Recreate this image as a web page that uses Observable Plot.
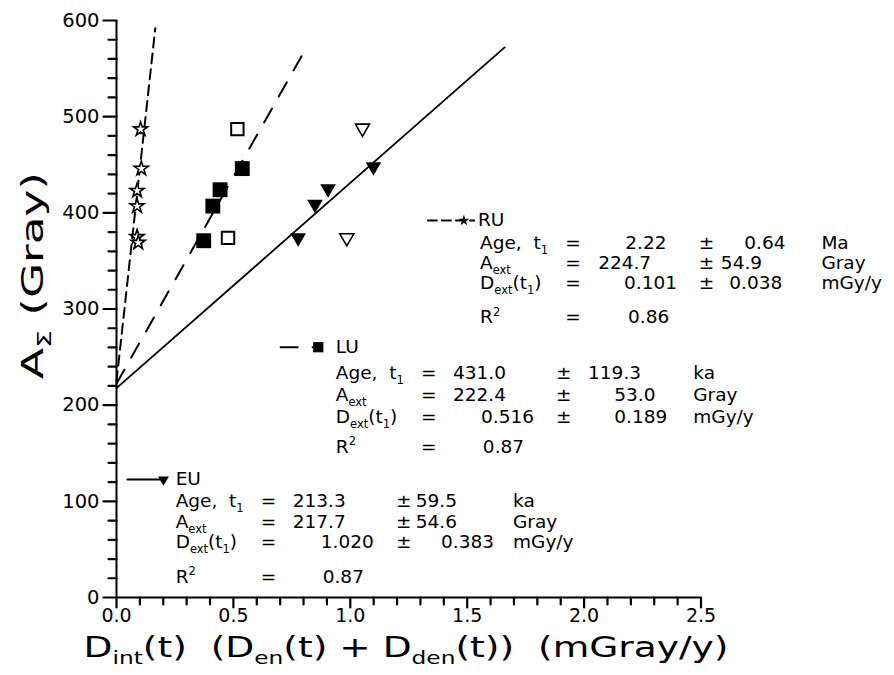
<!DOCTYPE html>
<html><head><meta charset="utf-8">
<script src="https://cdn.jsdelivr.net/npm/d3@7"></script>
<script src="https://cdn.jsdelivr.net/npm/@observablehq/plot@0.6"></script>
<style>
html,body{margin:0;padding:0;background:#fff}
#chart > svg{font-family:"DejaVu Sans",sans-serif;background:#fff;display:block}
</style>
</head><body><div id="chart"></div>
<script>
// ---------- data ----------
// RU (open stars)
const ruX = [0.103, 0.106, 0.088, 0.088, 0.088, 0.093];
const ruY = [487, 446, 423, 407, 375, 369];
// LU (filled squares used in fit, open squares excluded)
const luFilledX = [0.373, 0.412, 0.443, 0.538];
const luFilledY = [371, 407, 424, 446];
const luOpenX = [0.517, 0.477];
const luOpenY = [487, 374];
// EU (filled down-triangles used in fit, open excluded)
const euFilledX = [0.777, 0.849, 0.905, 1.099];
const euFilledY = [374, 409, 425, 448];
const euOpenX = [1.052, 0.985];
const euOpenY = [488, 374];
// fitted lines (end points)
const ruLineX = [0, 0.166], ruLineY = [224.7, 592];
const luLineX = [0, 0.815], luLineY = [222.4, 573];
const euLineX = [0, 1.66],  euLineY = [217.7, 572];
// axes
const xTicks = [0, 0.5, 1.0, 1.5, 2.0, 2.5];
const xMinor = [0.1,0.2,0.3,0.4,0.6,0.7,0.8,0.9,1.1,1.2,1.3,1.4,1.6,1.7,1.8,1.9,2.1,2.2,2.3,2.4];
const yTicks = [0, 100, 200, 300, 400, 500, 600];
const yMinor = [20,40,60,80,120,140,160,180,220,240,260,280,320,340,360,380,420,440,460,480,520,540,560,580];
// annotation text (label, "=", value, "±", error, unit)
const rowLabels = ["Age,\u00a0 t_{1}", "A_{ext}", "D_{ext}(t_{1})", "R^{2}"];
const ruVals = ["2.22", "224.7", "0.101", "0.86"];
const ruErrs = ["0.64", "54.9", "0.038"];
const luVals = ["431.0", "222.4", "0.516", "0.87"];
const luErrs = ["119.3", "53.0", "0.189"];
const euVals = ["213.3", "217.7", "1.020", "0.87"];
const euErrs = ["59.5", "54.6", "0.383"];
const ruUnits = ["Ma", "Gray", "mGy/y"];
const kaUnits = ["ka", "Gray", "mGy/y"];
const seriesNames = ["RU", "LU", "EU"];

// ---------- build tables ----------
const pts = (xs, ys) => xs.map((x, i) => ({x, y: ys[i]}));
const ru = pts(ruX, ruY), luF = pts(luFilledX, luFilledY), luO = pts(luOpenX, luOpenY);
const euF = pts(euFilledX, euFilledY), euO = pts(euOpenX, euOpenY);
const ruL = pts(ruLineX, ruLineY), luL = pts(luLineX, luLineY), euL = pts(euLineX, euLineY);

function block(cfg, vals, errs, units) {
  const out = [];
  cfg.rows.forEach((ry, i) => {
    out.push({x: cfg.label, y: ry, t: rowLabels[i]});
    out.push({x: cfg.eq, y: ry, t: "="});
    out.push({x: cfg.val[i], y: ry, t: vals[i]});
    if (i < 3) {
      out.push({x: cfg.pm, y: ry, t: "±"});
      out.push({x: cfg.err[i], y: ry, t: errs[i]});
      out.push({x: cfg.unit, y: ry, t: units[i]});
    }
  });
  return out;
}
const ruBlock = {label: 1.555, eq: 1.919, pm: 2.490, unit: 3.015,
  val: [2.176, 2.060, 2.171, 2.188], err: [2.685, 2.585, 2.621], rows: [368.4, 347.3, 326.5, 291.2]};
const luBlock = {label: 0.938, eq: 1.302, pm: 1.880, unit: 2.467,
  val: [1.439, 1.439, 1.559, 1.567], err: [2.017, 2.129, 2.129], rows: [233.2, 210.0, 187.5, 156.3]};
const euBlock = {label: 0.253, eq: 0.617, pm: 1.195, unit: 1.696,
  val: [0.754, 0.754, 0.874, 0.882], err: [1.280, 1.280, 1.388], rows: [100.1, 78.3, 57.5, 21.1]};
const annot = [
  ...block(ruBlock, ruVals, ruErrs, ruUnits),
  ...block(luBlock, luVals, luErrs, kaUnits),
  ...block(euBlock, euVals, euErrs, kaUnits),
  {x: 1.546, y: 392.0, t: seriesNames[0]},
  {x: 0.938, y: 260.3, t: seriesNames[1]},
  {x: 0.253, y: 122.7, t: seriesNames[2]}
];
// legend keys
const ruKeyLine = [{x: 1.332, y: 392}, {x: 1.53, y: 392}];
const luKeyLine = [{x: 0.702, y: 260.3}, {x: 0.84, y: 260.3}];
const euKeyLine = [{x: 0.047, y: 122.7}, {x: 0.195, y: 122.7}];

const xTitle = "D_{int}(t)\u00a0\u00a0(D_{en}(t)\u00a0+\u00a0D_{den}(t))\u00a0\u00a0(mGray/y)";
const yTitle = "A_{Σ}\u00a0(Gray)";

// the frame fills the whole picture; the domains are widened so that
// 0..2.5 spans pixels 116..700.5 and 0..600 spans pixels 597..20
const W = 894, H = 675;
const px = 584.5 / 2.5, py = 577 / 600;
const xDom = [-116 / px, (W - 116) / px];
const yDom = [-(H - 597) / py, 600 + 20 / py];
const kx = 1 / px, ky = 1 / py;

// tick segments as small two-point tables
const ySeg = (vals, len) => vals.flatMap(v => [{k: v, x: 0, y: v}, {k: v, x: -len * kx, y: v}]);
const xSeg = (vals, len) => vals.flatMap(v => [{k: v, x: v, y: 0}, {k: v, x: v, y: -len * ky}]);

const plot = Plot.plot({
  width: W, height: H,
  marginLeft: 0, marginRight: 0, marginTop: 0, marginBottom: 0,
  x: {domain: xDom, axis: null},
  y: {domain: yDom, axis: null},
  style: {fontFamily: "DejaVu Sans, sans-serif", background: "#fff", color: "#000"},
  marks: [
    // ticks
    Plot.line(ySeg(yMinor, 8), {x: "x", y: "y", z: "k", stroke: "#000", strokeWidth: 2.2}),
    Plot.line(ySeg(yTicks, 13), {x: "x", y: "y", z: "k", stroke: "#000", strokeWidth: 2.2}),
    Plot.line(xSeg(xMinor, 7), {x: "x", y: "y", z: "k", stroke: "#000", strokeWidth: 2.2}),
    Plot.line(xSeg(xTicks, 10), {x: "x", y: "y", z: "k", stroke: "#000", strokeWidth: 2.2}),
    // axis lines
    Plot.ruleX([0], {y1: 0, y2: 600, stroke: "#000", strokeWidth: 2}),
    Plot.ruleY([0], {x1: 0, x2: 2.5, stroke: "#000", strokeWidth: 2}),
    // tick labels
    Plot.text(yTicks, {x: -17 * kx, y: d => d, text: d => String(d), textAnchor: "end", fontSize: 19.5, fill: "#000"}),
    Plot.text(xTicks, {x: d => d, y: -11 * ky, text: d3.format(".1f"), lineAnchor: "top", fontSize: 19, fill: "#000"}),
    // fit lines
    Plot.line(ruL, {x: "x", y: "y", stroke: "#000", strokeWidth: 2, strokeDasharray: "10,6"}),
    Plot.line(luL, {x: "x", y: "y", stroke: "#000", strokeWidth: 2, strokeDasharray: "16,14"}),
    Plot.line(euL, {x: "x", y: "y", stroke: "#000", strokeWidth: 1.8}),
    // points
    Plot.dot(ru, {x: "x", y: "y", symbol: "star", r: 4.4, fill: "#fff", stroke: "#000", strokeWidth: 1.6}),
    Plot.dot(luF, {x: "x", y: "y", symbol: "square", r: 8.4, fill: "#000", stroke: "none"}),
    Plot.dot(luO, {x: "x", y: "y", symbol: "square", r: 7.0, fill: "#fff", stroke: "#000", strokeWidth: 2}),
    Plot.dot(euF, {x: "x", y: "y", symbol: "triangle", rotate: 180, r: 5.8, fill: "#000", stroke: "none"}),
    Plot.dot(euO, {x: "x", y: "y", symbol: "triangle", rotate: 180, r: 5.2, fill: "#fff", stroke: "#000", strokeWidth: 1.6}),
    // legend keys
    Plot.line(ruKeyLine, {x: "x", y: "y", stroke: "#000", strokeWidth: 2, strokeDasharray: "9,5"}),
    Plot.dot([ruKeyLine[1]], {x: d => 1.486, y: "y", symbol: "star", r: 3.4, fill: "#000"}),
    Plot.line(luKeyLine, {x: "x", y: "y", stroke: "#000", strokeWidth: 2, strokeDasharray: "17,15"}),
    Plot.dot([luKeyLine[1]], {x: d => 0.863, y: "y", symbol: "square", r: 5.8, fill: "#000"}),
    Plot.line(euKeyLine, {x: "x", y: "y", stroke: "#000", strokeWidth: 2}),
    Plot.dot([euKeyLine[1]], {x: d => 0.201, y: "y", symbol: "triangle", rotate: 180, r: 4.0, fill: "#000"}),
    // annotation text
    Plot.text(annot, {x: "x", y: "y", text: "t", textAnchor: "start", fontSize: 18.5, fill: "#000"}),
    // axis titles
    Plot.text([xTitle], {frameAnchor: "bottom", text: d => d, dx: -41.5, dy: -19, fontSize: 29, fill: "#000"}),
    Plot.text([yTitle], {frameAnchor: "left", text: d => d, textAnchor: "start", dx: 33, dy: 41, rotate: -90, fontSize: 30, fill: "#000"})
  ]
});
document.getElementById("chart").appendChild(plot);

// turn _{..} / ^{..} markup into sub/superscript tspans
const lengths = {[xTitle]: 645, [yTitle]: 207};
function richify(root) {
  root.querySelectorAll("text").forEach(el => {
    const s = el.textContent;
    if (!/[_^]\{/.test(s)) return;
    const fs = parseFloat(getComputedStyle(el).fontSize);
    while (el.firstChild) el.removeChild(el.firstChild);
    const re = /([_^])\{([^}]*)\}|([^_^]+)/g;
    let m, shift = 0;
    while ((m = re.exec(s))) {
      const t = document.createElementNS("http://www.w3.org/2000/svg", "tspan");
      let target = 0;
      if (m[1]) {
        target = m[1] === "_" ? 0.25 * fs : -0.42 * fs;
        t.setAttribute("font-size", 0.62 * fs);
        t.textContent = m[2];
      } else t.textContent = m[3];
      t.setAttribute("dy", target - shift);
      shift = target;
      el.appendChild(t);
    }
    if (lengths[s]) {
      el.setAttribute("textLength", lengths[s]);
      el.setAttribute("lengthAdjust", "spacingAndGlyphs");
    }
  });
}
richify(plot);
</script>
</body></html>
